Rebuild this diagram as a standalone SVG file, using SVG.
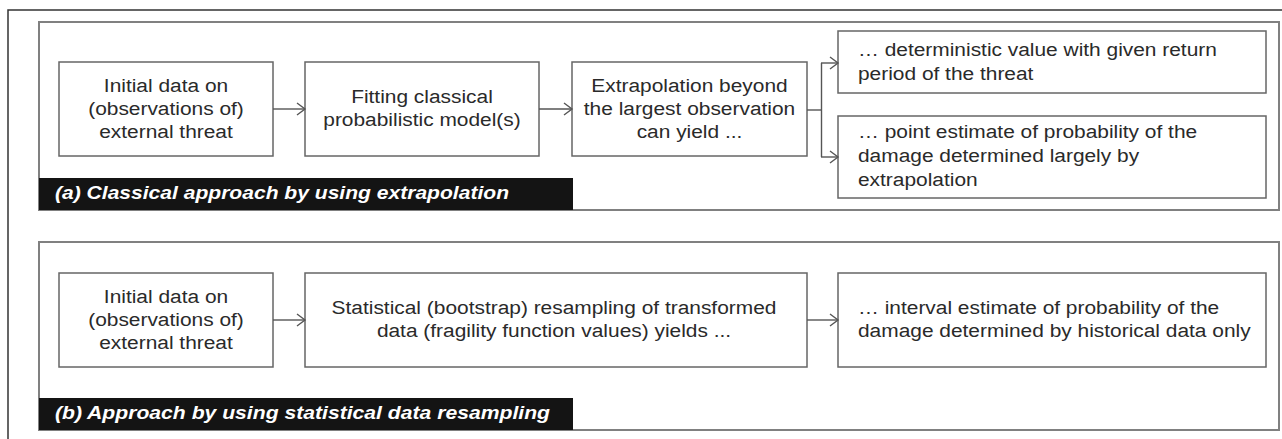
<svg xmlns="http://www.w3.org/2000/svg" width="1282" height="439" viewBox="0 0 1282 439">
<defs>
<style>
.frame{fill:none;stroke:#333;stroke-width:1.5}
.panel{fill:#fff;stroke:#808080;stroke-width:2}
.box{fill:#fff;stroke:#666;stroke-width:1.5}
.bar{fill:#141414}
.t{font-family:"Liberation Sans",Arial,sans-serif;font-size:19px;fill:#2a2a2a}
.c{text-anchor:middle}
.lab{font-family:"Liberation Sans",Arial,sans-serif;font-size:17.5px;font-weight:bold;font-style:italic;fill:#fff}
.conn{fill:none;stroke:#555;stroke-width:1.4}
</style>
<marker id="arr" markerWidth="12" markerHeight="14" refX="10" refY="7" orient="auto" markerUnits="userSpaceOnUse">
<path d="M2,1 L10,7 L2,13" fill="none" stroke="#555" stroke-width="1.4"/>
</marker>
</defs>
<rect width="1282" height="439" fill="#fff"/>
<path class="frame" d="M8,439 V10 H1282"/>

<g id="panel-a">
<rect class="panel" x="39" y="22" width="1240" height="188"/>
<rect class="bar" x="39" y="178" width="534" height="32"/>
<text class="lab" x="55" y="199" textLength="454" lengthAdjust="spacingAndGlyphs">(a) Classical approach by using extrapolation</text>
</g>
<g id="panel-b">
<rect class="panel" x="39" y="242" width="1240" height="188"/>
<rect class="bar" x="39" y="398" width="534" height="32"/>
<text class="lab" x="55" y="419" textLength="495" lengthAdjust="spacingAndGlyphs">(b) Approach by using statistical data resampling</text>
</g>

<g id="a1"><rect class="box" x="59" y="62" width="214" height="94"/>
<g transform="scale(1.1,1)"><text class="t c" x="150.91" y="92">Initial data on</text><text class="t c" x="150.91" y="115">(observations of)</text><text class="t c" x="150.91" y="138">external threat</text></g></g>
<g id="a2"><rect class="box" x="305" y="62" width="234" height="94"/>
<g transform="scale(1.1,1)"><text class="t c" x="383.64" y="103">Fitting classical</text><text class="t c" x="383.64" y="126">probabilistic model(s)</text></g></g>
<g id="a3"><rect class="box" x="572" y="62" width="235" height="94"/>
<g transform="scale(1.1,1)"><text class="t c" x="626.82" y="92">Extrapolation beyond</text><text class="t c" x="626.82" y="115">the largest observation</text><text class="t c" x="626.82" y="138">can yield ...</text></g></g>
<g id="a4"><rect class="box" x="838" y="31" width="428" height="62"/>
<g transform="scale(1.1,1)"><text class="t" x="780" y="56">… deterministic value with given return</text><text class="t" x="780" y="80">period of the threat</text></g></g>
<g id="a5"><rect class="box" x="838" y="116" width="428" height="82"/>
<g transform="scale(1.1,1)"><text class="t" x="780" y="138">… point estimate of probability of the</text><text class="t" x="780" y="162">damage determined largely by</text><text class="t" x="780" y="186">extrapolation</text></g></g>

<g id="b1"><rect class="box" x="59" y="273" width="214" height="94"/>
<g transform="scale(1.1,1)"><text class="t c" x="150.91" y="303">Initial data on</text><text class="t c" x="150.91" y="326">(observations of)</text><text class="t c" x="150.91" y="349">external threat</text></g></g>
<g id="b2"><rect class="box" x="305" y="273" width="502" height="94"/>
<g transform="scale(1.1,1)"><text class="t c" x="503.64" y="314">Statistical (bootstrap) resampling of transformed</text><text class="t c" x="503.64" y="337">data (fragility function values) yields ...</text></g></g>
<g id="b3"><rect class="box" x="838" y="273" width="428" height="94"/>
<g transform="scale(1.1,1)"><text class="t" x="780" y="314">… interval estimate of probability of the</text><text class="t" x="780" y="337">damage determined by historical data only</text></g></g>

<g id="connectors">
<line class="conn" x1="273" y1="109" x2="305" y2="109" marker-end="url(#arr)"/>
<line class="conn" x1="539" y1="109" x2="572" y2="109" marker-end="url(#arr)"/>
<path class="conn" d="M807,110 H821.5"/>
<path class="conn" d="M821.5,63 V157"/>
<path class="conn" d="M821,63 H838" marker-end="url(#arr)"/>
<path class="conn" d="M821,157 H838" marker-end="url(#arr)"/>
<line class="conn" x1="273" y1="320" x2="305" y2="320" marker-end="url(#arr)"/>
<line class="conn" x1="807" y1="320" x2="838" y2="320" marker-end="url(#arr)"/>
</g>
</svg>
